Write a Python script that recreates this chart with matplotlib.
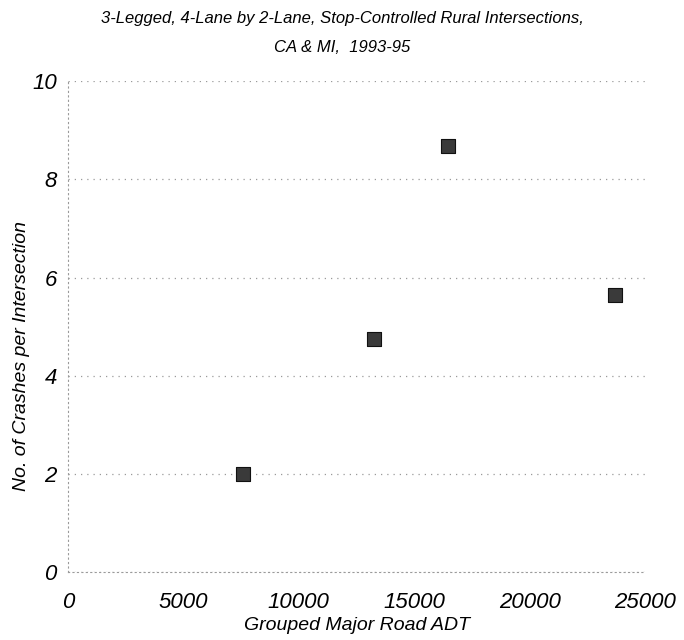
import matplotlib.pyplot as plt

# grouped major road ADT vs crashes per intersection
adt = [7580, 13240, 16460, 23680]
crashes = [2.0, 4.76, 8.69, 5.64]
xticks = [0, 5000, 10000, 15000, 20000, 25000]
yticks = [0, 2, 4, 6, 8, 10]

plt.rcParams['font.family'] = ['Liberation Sans', 'DejaVu Sans']
plt.rcParams['font.style'] = 'italic'

fig = plt.figure(figsize=(6.84, 6.4), dpi=100)
ax = fig.add_axes([0.0994, 0.106, 0.8436, 0.767])

ax.scatter(adt, crashes, marker='s', s=100, color='#3a3a3a',
           edgecolors='#111111', linewidths=0.8, zorder=3)

ax.set_xlim(0, 25000)
ax.set_ylim(0, 10)
ax.set_xticks(xticks)
ax.set_yticks(yticks)
ax.tick_params(length=0, labelsize=16)
ax.tick_params(axis='x', pad=14)
ax.tick_params(axis='y', pad=8)

ax.grid(axis='y', linestyle=(0, (1, 4)), color='#9a9a9a', linewidth=0.9)
for side in ['top', 'right']:
    ax.spines[side].set_visible(False)
ax.spines['left'].set_linestyle((0, (1, 3)))
ax.spines['left'].set_color('#9a9a9a')
ax.spines['bottom'].set_linestyle((0, (1, 3)))
ax.spines['bottom'].set_color('#9a9a9a')

ax.set_xlabel('Grouped Major Road ADT', fontsize=14, labelpad=3)
ax.set_ylabel('No. of Crashes per Intersection', fontsize=14)
ax.yaxis.set_label_coords(-0.065, 0.44)

fig.text(0.5, 0.971, '3-Legged, 4-Lane by 2-Lane, Stop-Controlled Rural Intersections,',
         ha='center', va='center', fontsize=12)
fig.text(0.5, 0.926, 'CA & MI,  1993-95', ha='center', va='center', fontsize=12)

fig.savefig('out.png', dpi=100)
